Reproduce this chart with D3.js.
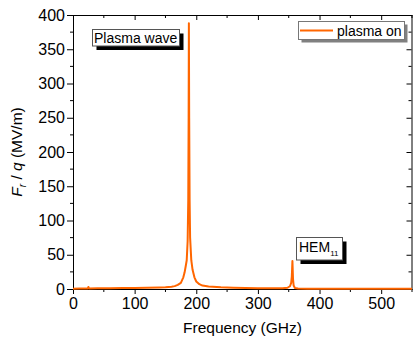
<!DOCTYPE html>
<html>
<head>
<meta charset="utf-8">
<script src="https://cdn.jsdelivr.net/npm/d3@7"></script>
<style>
  body { margin: 0; background: #fff; }
  svg { display: block; font-family: "Liberation Sans", Arial, sans-serif; }
</style>
</head>
<body>
<svg id="chart" width="413" height="338"></svg>
<script>
// Data (frequency in GHz, Fr/q in MV/m)
const freq = [0, 10, 20, 24, 25, 26, 40, 60, 80, 100, 120, 140, 150, 160, 165, 170, 175, 179, 181, 183, 184.5, 186, 187, 187.6, 188,
  188.5, 189.2, 190, 191.9, 194, 197, 200, 205, 210, 220, 240, 260, 280, 300, 320, 340, 348, 352, 354, 355, 356,
  357, 358, 360, 365, 380, 400, 450, 500, 550];
const force = [0.5, 0.6, 0.8, 0.9, 3, 0.9, 1, 1.1, 1.3, 1.5, 1.8, 2.2, 2.5, 3.3, 4.2, 6, 9, 17, 24, 34, 42, 70, 130, 250, 388,
  250, 130, 75, 42, 28, 17, 11, 7, 5, 3.8, 2.5, 1.8, 1.4, 1.2, 1, 1.1, 1.8, 4, 9, 18, 41,
  14, 5, 1.5, 0.7, 0.5, 0.4, 0.3, 0.3, 0.3];
const xTicks = [0, 100, 200, 300, 400, 500];
const yTicks = [0, 50, 100, 150, 200, 250, 300, 350, 400];
const seriesName = "plasma on";

const svg = d3.select("#chart");
const margin = { top: 15, right: 1, bottom: 49, left: 73 };
const width = 413, height = 338;
const orange = "#ff6600";

const x = d3.scaleLinear().domain([0, 550]).range([margin.left, width - margin.right]);
const y = d3.scaleLinear().domain([0, 400]).range([height - margin.bottom, margin.top]);

const xMinor = d3.range(50, 551, 100);
const yMinor = d3.range(25, 400, 50);

// bottom axis (ticks outside)
const gBottom = svg.append("g").attr("transform", `translate(0,${y(0)})`);
gBottom.call(d3.axisBottom(x).tickValues(xTicks).tickSize(5).tickPadding(4).tickSizeOuter(0));
gBottom.append("g").selectAll("line").data(xMinor).join("line")
  .attr("x1", d => x(d)).attr("x2", d => x(d)).attr("y1", 0).attr("y2", 3).attr("stroke", "#000");

// left axis (ticks outside)
const gLeft = svg.append("g").attr("transform", `translate(${x(0)},0)`);
gLeft.call(d3.axisLeft(y).tickValues(yTicks).tickSize(6).tickPadding(2).tickSizeOuter(0));
gLeft.append("g").selectAll("line").data(yMinor).join("line")
  .attr("y1", d => y(d)).attr("y2", d => y(d)).attr("x1", 0).attr("x2", -3).attr("stroke", "#000");

// top axis (ticks inside)
const gTop = svg.append("g").attr("transform", `translate(0,${y(400)})`);
gTop.call(d3.axisBottom(x).tickValues(xTicks).tickSize(5).tickFormat("").tickSizeOuter(0));
gTop.append("g").selectAll("line").data(xMinor).join("line")
  .attr("x1", d => x(d)).attr("x2", d => x(d)).attr("y1", 0).attr("y2", 3).attr("stroke", "#000");

// right axis (ticks inside)
const gRight = svg.append("g").attr("transform", `translate(${x(550) - 0.5},0)`);
gRight.call(d3.axisLeft(y).tickValues(yTicks).tickSize(5).tickFormat("").tickSizeOuter(0));
gRight.append("g").selectAll("line").data(yMinor).join("line")
  .attr("y1", d => y(d)).attr("y2", d => y(d)).attr("x1", 0).attr("x2", -3).attr("stroke", "#000");

svg.selectAll(".tick text").attr("font-size", 16).attr("font-family", "Liberation Sans, Arial, sans-serif").attr("fill", "#000");
svg.selectAll(".domain").attr("stroke", "#000");

// axis titles
svg.append("text")
  .attr("x", (x(0) + x(550)) / 2).attr("y", 333)
  .attr("text-anchor", "middle").attr("font-size", 15.5)
  .text("Frequency (GHz)");

const yl = svg.append("text")
  .attr("transform", `translate(22,${(y(0) + y(400)) / 2}) rotate(-90)`)
  .attr("text-anchor", "middle").attr("font-size", 15.5);
yl.append("tspan").attr("font-style", "italic").text("F");
yl.append("tspan").attr("font-size", 10).attr("dy", 4).attr("font-style", "italic").text("r");
yl.append("tspan").attr("dy", -4).text(" / ");
yl.append("tspan").attr("font-style", "italic").text("q");
yl.append("tspan").text(" (MV/m)");

// the curve
const pts = freq.map((f, i) => [f, force[i]]);
svg.append("path")
  .datum(pts)
  .attr("fill", "none")
  .attr("stroke", orange)
  .attr("stroke-width", 2)
  .attr("stroke-linejoin", "round")
  .attr("d", d3.line().x(d => x(d[0])).y(d => y(d[1])));

// annotation boxes with black shadow
function label(bx, by, bw, bh, build) {
  svg.append("rect").attr("x", bx + 4).attr("y", by + 4).attr("width", bw).attr("height", bh).attr("fill", "#000");
  svg.append("rect").attr("x", bx).attr("y", by).attr("width", bw).attr("height", bh)
    .attr("fill", "#fff").attr("stroke", "#555").attr("stroke-width", 1);
  build(svg.append("text").attr("font-size", 14));
}
label(92.5, 29.5, 87, 16.5, t => t.attr("x", 94).attr("y", 42.5).text("Plasma wave"));
label(296.5, 237.5, 46, 22.5, t => {
  t.attr("x", 299).attr("y", 252);
  t.append("tspan").text("HEM");
  t.append("tspan").attr("font-size", 8).attr("dy", 4).text("11");
});

// legend with gray shadow
const lg = svg.append("g");
lg.append("rect").attr("x", 301.5).attr("y", 24.5).attr("width", 106).attr("height", 18).attr("fill", "#808080");
lg.append("rect").attr("x", 298.5).attr("y", 21.5).attr("width", 106).attr("height", 18)
  .attr("fill", "#fff").attr("stroke", "#777");
lg.append("line").attr("x1", 300).attr("x2", 333).attr("y1", 30.5).attr("y2", 30.5)
  .attr("stroke", orange).attr("stroke-width", 2);
lg.append("text").attr("x", 337).attr("y", 36).attr("font-size", 14).text(seriesName);
</script>
</body>
</html>
